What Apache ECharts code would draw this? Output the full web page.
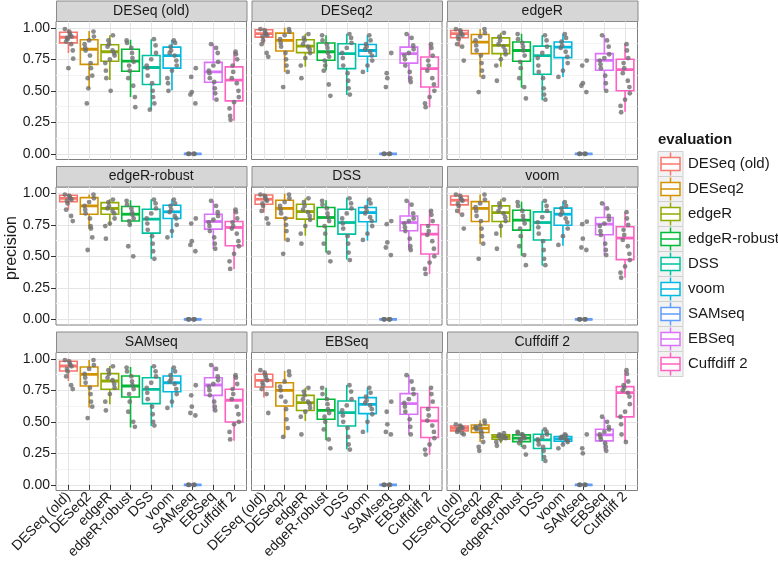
<!DOCTYPE html>
<html><head><meta charset="utf-8">
<script src="https://cdn.jsdelivr.net/npm/echarts@6/dist/echarts.min.js"></script>
<style>html,body{margin:0;padding:0;background:#fff}#c{width:778px;height:571px}</style>
</head><body><div id="c"></div>
<script>
// ---------- DATA ----------
const methods = ['DESeq (old)','DESeq2','edgeR','edgeR-robust','DSS','voom','SAMseq','EBSeq','Cuffdiff 2'];
const colors = ['#F8766D','#D39200','#93AA00','#00BA38','#00C19F','#00B9E3','#619CFF','#DB72FB','#FF61C3'];
const yTicks = [0, 0.25, 0.5, 0.75, 1];
const yMinorTicks = [0.125, 0.375, 0.625, 0.875];
const xTicks = [1,2,3,4,5,6,7,8,9];
// horizontal jitter pattern (category units)
const jitter = [-0.17, 0.09, -0.04, 0.21, -0.22, 0.04, 0.15, -0.11, 0.23, -0.19, 0.07, -0.07, 0.13, 0.0];

// box stats per panel: [lower whisker, Q1, median, Q3, upper whisker], one row per evaluated method
const box_DESeqOld = [[0.80,0.88,0.925,0.965,0.99],[0.52,0.71,0.83,0.905,0.975],[0.585,0.734,0.81,0.866,0.94],[0.45,0.655,0.735,0.83,0.905],[0.35,0.55,0.685,0.78,0.91],[0.505,0.68,0.78,0.847,0.905],[0,0,0,0,0],[0.426,0.568,0.65,0.726,0.873],[0.263,0.42,0.585,0.69,0.81]];
const box_DESeq2 = [[0.874,0.926,0.953,0.984,1.0],[0.65,0.816,0.9,0.958,1.0],[0.69,0.803,0.855,0.905,0.953],[0.663,0.742,0.81,0.879,0.94],[0.466,0.676,0.795,0.874,0.953],[0.65,0.774,0.82,0.868,0.94],[0,0,0,0,0],[0.57,0.72,0.795,0.847,0.953],[0.37,0.53,0.676,0.768,0.873]];
const box_edgeR = [[0.85,0.921,0.953,0.979,0.995],[0.61,0.795,0.887,0.947,0.99],[0.69,0.795,0.86,0.92,0.96],[0.526,0.734,0.82,0.887,0.953],[0.426,0.632,0.78,0.855,0.94],[0.61,0.763,0.847,0.887,0.953],[0,0,0,0,0],[0.505,0.663,0.742,0.795,0.94],[0.334,0.5,0.668,0.75,0.874]];
const box_edgeRrobust = [[0.87,0.934,0.96,0.984,1.0],[0.716,0.834,0.9,0.966,0.99],[0.742,0.834,0.88,0.926,0.953],[0.747,0.78,0.834,0.895,0.945],[0.479,0.684,0.795,0.874,0.953],[0.645,0.8,0.853,0.905,0.953],[0,0,0,0,0],[0.558,0.716,0.776,0.834,0.94],[0.4,0.584,0.729,0.776,0.874]];
const box_DSS = [[0.847,0.913,0.953,0.987,1.0],[0.624,0.803,0.88,0.945,0.997],[0.663,0.795,0.855,0.913,0.96],[0.53,0.737,0.808,0.887,0.945],[0.474,0.676,0.768,0.874,0.966],[0.624,0.774,0.847,0.887,0.953],[0,0,0,0,0],[0.55,0.703,0.768,0.82,0.94],[0.36,0.518,0.676,0.75,0.866]];
const box_voom = [[0.834,0.908,0.945,0.979,1.0],[0.597,0.776,0.88,0.934,0.99],[0.65,0.776,0.847,0.9,0.953],[0.505,0.708,0.787,0.866,0.934],[0.426,0.629,0.768,0.853,0.94],[0.584,0.747,0.834,0.882,0.934],[0,0,0,0,0],[0.505,0.671,0.755,0.808,0.926],[0.33,0.474,0.645,0.734,0.847]];
const box_SAMseq = [[0.824,0.903,0.943,0.98,1.0],[0.613,0.784,0.877,0.935,0.99],[0.639,0.758,0.824,0.882,0.943],[0.454,0.697,0.784,0.864,0.935],[0.467,0.644,0.758,0.85,0.943],[0.613,0.739,0.81,0.864,0.93],[0,0,0,0,0],[0.586,0.71,0.792,0.85,0.95],[0.349,0.499,0.671,0.758,0.871]];
const box_EBSeq = [[0.692,0.776,0.829,0.877,0.908],[0.375,0.626,0.75,0.81,0.903],[0.507,0.59,0.652,0.71,0.771],[0.354,0.52,0.59,0.679,0.771],[0.283,0.467,0.573,0.665,0.792],[0.415,0.565,0.639,0.692,0.771],[0,0,0,0,0],[0.40,0.56,0.644,0.724,0.871],[0.238,0.375,0.507,0.613,0.766]];
const box_Cuffdiff2 = [[0.42,0.428,0.449,0.467,0.48],[0.34,0.415,0.449,0.475,0.512],[0.33,0.362,0.38,0.396,0.41],[0.3,0.343,0.37,0.396,0.42],[0.19,0.288,0.356,0.401,0.44],[0.32,0.346,0.364,0.383,0.40],[0,0,0,0,0],[0.27,0.349,0.396,0.441,0.539],[0.343,0.539,0.731,0.779,0.908]];

// individual precision values per panel (one list per evaluated method)
const pts_DESeqOld = [[0.99,0.97,0.95,0.94,0.93,0.92,0.91,0.89,0.87,0.82,0.755,0.68],[0.97,0.93,0.9,0.87,0.84,0.82,0.78,0.72,0.68,0.62,0.6,0.52,0.40],[0.94,0.9,0.87,0.85,0.82,0.8,0.78,0.75,0.72,0.66,0.6,0.5],[0.9,0.88,0.84,0.8,0.76,0.73,0.7,0.66,0.6,0.54,0.45,0.37],[0.91,0.86,0.8,0.75,0.7,0.68,0.62,0.56,0.5,0.45,0.4,0.35],[0.9,0.88,0.85,0.82,0.8,0.78,0.74,0.7,0.66,0.6,0.56,0.5],[0,0,0,0,0,0,0.68,0.61,0.49,0.47,0.40],[0.87,0.84,0.8,0.73,0.7,0.66,0.64,0.6,0.57,0.52,0.48,0.43],[0.81,0.79,0.75,0.7,0.65,0.6,0.56,0.5,0.45,0.41,0.36,0.3,0.27]];
const pts_DESeq2 = [[0.99,0.98,0.96,0.95,0.94,0.93,0.9,0.87,0.8,0.77],[0.99,0.97,0.94,0.91,0.88,0.85,0.8,0.75,0.7,0.65,0.53],[0.95,0.92,0.9,0.87,0.85,0.83,0.8,0.76,0.7,0.6],[0.94,0.9,0.87,0.84,0.8,0.77,0.74,0.7,0.66,0.55,0.46],[0.95,0.92,0.88,0.84,0.8,0.76,0.7,0.64,0.58,0.52,0.47],[0.94,0.9,0.87,0.85,0.83,0.81,0.78,0.74,0.7,0.65],[0,0,0,0,0,0,0.8,0.64,0.6,0.53],[0.95,0.92,0.86,0.83,0.8,0.78,0.75,0.7,0.65,0.6,0.57],[0.87,0.84,0.78,0.74,0.7,0.66,0.6,0.55,0.5,0.45,0.4,0.37]];
const pts_edgeR = [[0.99,0.98,0.96,0.95,0.94,0.93,0.91,0.87,0.85,0.74],[0.99,0.96,0.93,0.9,0.86,0.82,0.78,0.72,0.66,0.61,0.49],[0.96,0.93,0.9,0.87,0.85,0.82,0.79,0.75,0.7,0.58],[0.95,0.91,0.88,0.85,0.82,0.78,0.73,0.68,0.6,0.53,0.44],[0.94,0.9,0.85,0.8,0.76,0.7,0.65,0.6,0.52,0.47,0.43],[0.95,0.92,0.89,0.86,0.84,0.81,0.77,0.72,0.66,0.61],[0,0,0,0,0,0,0.74,0.7,0.56,0.54,0.49],[0.94,0.9,0.85,0.79,0.76,0.74,0.71,0.68,0.62,0.56,0.5],[0.87,0.82,0.76,0.72,0.68,0.64,0.58,0.53,0.48,0.43,0.38,0.33]];
const pts_edgeRrobust = [[0.99,0.98,0.97,0.96,0.95,0.94,0.92,0.87,0.82,0.78],[0.99,0.96,0.93,0.9,0.87,0.84,0.8,0.74,0.72,0.65,0.55],[0.95,0.93,0.9,0.88,0.86,0.84,0.8,0.76,0.74,0.64],[0.94,0.91,0.88,0.85,0.83,0.8,0.78,0.75,0.58,0.5],[0.95,0.92,0.88,0.84,0.8,0.76,0.71,0.66,0.6,0.54,0.48],[0.95,0.92,0.9,0.87,0.85,0.82,0.8,0.75,0.7,0.65],[0,0,0,0,0,0,0.8,0.76,0.62,0.59,0.54],[0.94,0.9,0.85,0.82,0.79,0.77,0.74,0.7,0.65,0.6,0.56],[0.87,0.85,0.8,0.77,0.74,0.72,0.68,0.62,0.58,0.52,0.46,0.4]];
const pts_DSS = [[0.99,0.98,0.97,0.95,0.94,0.92,0.9,0.86,0.8,0.76],[0.99,0.96,0.93,0.9,0.87,0.84,0.8,0.75,0.7,0.63,0.52],[0.96,0.93,0.9,0.87,0.85,0.82,0.79,0.74,0.68,0.6],[0.94,0.91,0.88,0.84,0.81,0.78,0.74,0.68,0.6,0.53,0.46],[0.96,0.92,0.88,0.84,0.8,0.76,0.72,0.66,0.6,0.53,0.47],[0.95,0.92,0.89,0.86,0.84,0.81,0.78,0.74,0.68,0.63],[0,0,0,0,0,0,0.78,0.755,0.61,0.57,0.51],[0.94,0.91,0.84,0.8,0.78,0.76,0.73,0.7,0.64,0.58,0.55],[0.86,0.83,0.78,0.74,0.7,0.67,0.62,0.56,0.5,0.45,0.4,0.36]];
const pts_voom = [[0.99,0.98,0.96,0.95,0.94,0.92,0.9,0.86,0.83,0.72],[0.99,0.95,0.92,0.89,0.86,0.82,0.78,0.72,0.66,0.6,0.48],[0.95,0.92,0.89,0.86,0.84,0.81,0.78,0.74,0.68,0.56],[0.93,0.9,0.86,0.82,0.79,0.76,0.72,0.66,0.58,0.51,0.43],[0.94,0.9,0.86,0.81,0.77,0.73,0.68,0.62,0.55,0.48,0.43],[0.93,0.9,0.88,0.85,0.83,0.8,0.77,0.72,0.66,0.59],[0,0,0,0,0,0,0.775,0.755,0.64,0.57,0.55],[0.92,0.88,0.82,0.79,0.76,0.74,0.7,0.67,0.6,0.55,0.51],[0.85,0.8,0.75,0.71,0.67,0.63,0.58,0.52,0.47,0.42,0.37,0.33]];
const pts_SAMseq = [[0.99,0.98,0.96,0.95,0.94,0.92,0.9,0.86,0.79,0.76],[0.99,0.95,0.92,0.88,0.85,0.81,0.77,0.72,0.66,0.62,0.53],[0.94,0.91,0.88,0.85,0.83,0.8,0.77,0.72,0.66,0.59],[0.93,0.9,0.86,0.82,0.79,0.76,0.72,0.66,0.58,0.5,0.46],[0.94,0.9,0.86,0.81,0.77,0.73,0.68,0.62,0.56,0.5,0.47],[0.93,0.9,0.87,0.84,0.82,0.8,0.76,0.72,0.66,0.61],[0,0,0,0,0,0,0.79,0.71,0.62,0.57,0.55],[0.95,0.92,0.86,0.83,0.8,0.78,0.75,0.71,0.66,0.62,0.59],[0.87,0.85,0.8,0.76,0.72,0.68,0.62,0.56,0.5,0.48,0.42,0.36]];
const pts_EBSeq = [[0.91,0.89,0.87,0.85,0.83,0.81,0.79,0.76,0.72,0.57],[0.9,0.87,0.82,0.78,0.75,0.7,0.66,0.6,0.52,0.45,0.38],[0.77,0.74,0.71,0.68,0.66,0.64,0.61,0.58,0.54,0.4],[0.77,0.72,0.68,0.64,0.6,0.57,0.54,0.5,0.44,0.36,0.29],[0.79,0.74,0.68,0.63,0.59,0.55,0.5,0.45,0.38,0.32,0.28],[0.77,0.73,0.7,0.67,0.65,0.63,0.6,0.56,0.5,0.42],[0,0,0,0,0,0,0.66,0.58,0.48,0.42,0.40],[0.87,0.82,0.76,0.72,0.68,0.65,0.62,0.58,0.52,0.46,0.4],[0.77,0.72,0.66,0.6,0.55,0.51,0.47,0.42,0.37,0.32,0.28,0.24]];
const pts_Cuffdiff2 = [[0.48,0.47,0.46,0.455,0.45,0.44,0.43,0.42,0.41,0.40],[0.51,0.49,0.47,0.46,0.45,0.44,0.43,0.41,0.38,0.34,0.3,0.27],[0.41,0.4,0.39,0.385,0.38,0.375,0.37,0.36,0.34,0.31],[0.42,0.41,0.4,0.39,0.38,0.37,0.36,0.35,0.33,0.3,0.24],[0.44,0.42,0.4,0.38,0.36,0.35,0.32,0.3,0.27,0.22,0.19],[0.4,0.39,0.38,0.375,0.37,0.36,0.35,0.34,0.32,0.29],[0,0,0,0,0,0,0.4,0.29,0.25],[0.54,0.5,0.46,0.44,0.42,0.4,0.38,0.36,0.33,0.3,0.27],[0.91,0.88,0.82,0.79,0.77,0.75,0.73,0.7,0.64,0.58,0.54,0.48,0.4,0.34]];

const panelBoxes = [box_DESeqOld, box_DESeq2, box_edgeR, box_edgeRrobust, box_DSS, box_voom, box_SAMseq, box_EBSeq, box_Cuffdiff2];
const panelPoints = [pts_DESeqOld, pts_DESeq2, pts_edgeR, pts_edgeRrobust, pts_DSS, pts_voom, pts_SAMseq, pts_EBSeq, pts_Cuffdiff2];

// ---------- LAYOUT ----------
const colLeft = [56, 251.5, 447];
const rowTop = [21.5, 187, 352.5];
const panelW = 190.5, panelH = 138, stripH = 20.5;
const FONT = 'Liberation Sans, Arial, Helvetica, sans-serif';
const textCol = '#1a1a1a';

const grids = [], xAxes = [], yAxes = [], series = [], graphics = [];

for (let k = 0; k < 9; k++) {
  const r = Math.floor(k / 3), c = k % 3;
  grids.push({left: colLeft[c], top: rowTop[r], width: panelW, height: panelH,
    show: true, backgroundColor: '#fff', borderColor: '#7f7f7f', borderWidth: 1});
  const bottomRow = r === 2;
  xAxes.push({gridIndex: k, type: 'value', min: 0.4, max: 9.6,
    axisLine: {show: false},
    axisTick: {show: bottomRow, length: 5, lineStyle: {color: '#333'}, customValues: xTicks},
    axisLabel: {show: bottomRow, customValues: xTicks, rotate: 45, margin: 4, fontSize: 14,
      fontFamily: FONT, color: textCol, formatter: v => methods[Math.round(v) - 1]},
    splitLine: {show: true, lineStyle: {color: '#e5e5e5', width: 1}}});
  // main y axis
  yAxes.push({gridIndex: k, type: 'value', min: -0.045, max: 1.05,
    axisLine: {show: false},
    axisTick: {show: c === 0, length: 5, lineStyle: {color: '#333'}, customValues: yTicks},
    axisLabel: {show: c === 0, customValues: yTicks, margin: 6, fontSize: 14, fontFamily: FONT,
      color: textCol, formatter: v => v.toFixed(2)},
    splitLine: {show: true, lineStyle: {color: '#e5e5e5', width: 1}}});
  // minor grid lines
  yAxes.push({gridIndex: k, type: 'value', min: -0.045, max: 1.05, position: 'left',
    axisLine: {show: false}, axisTick: {show: false, customValues: yMinorTicks},
    axisLabel: {show: false, customValues: yMinorTicks},
    splitLine: {show: true, lineStyle: {color: '#f4f4f4', width: 1}}});

  const boxes = panelBoxes[k];
  series.push({
    type: 'custom', xAxisIndex: k, yAxisIndex: 2 * k, z: 2, clip: true, silent: true,
    data: boxes.map((b, i) => [i + 1, b[0], b[1], b[2], b[3], b[4], i]),
    renderItem: (params, api) => {
      const x = api.value(0);
      const lo = api.coord([x, api.value(1)]);
      const q1 = api.coord([x, api.value(2)]);
      const md = api.coord([x, api.value(3)]);
      const q3 = api.coord([x, api.value(4)]);
      const hi = api.coord([x, api.value(5)]);
      const hw = api.size([0.85, 0])[0] / 2;
      const col = colors[api.value(6)];
      return {type: 'group', children: [
        {type: 'line', shape: {x1: lo[0], y1: lo[1], x2: q1[0], y2: q1[1]}, style: {stroke: col, lineWidth: 1.6}},
        {type: 'line', shape: {x1: q3[0], y1: q3[1], x2: hi[0], y2: hi[1]}, style: {stroke: col, lineWidth: 1.6}},
        {type: 'rect', shape: {x: q3[0] - hw, y: q3[1], width: 2 * hw, height: q1[1] - q3[1]},
          style: {stroke: col, lineWidth: 1.6, fill: '#fff'}},
        {type: 'line', shape: {x1: md[0] - hw, y1: md[1], x2: md[0] + hw, y2: md[1]}, style: {stroke: col, lineWidth: 2.8}}
      ]};
    }
  });
  const pts = [];
  panelPoints[k].forEach((list, i) => {
    list.forEach((v, j) => {
      pts.push([i + 1 + jitter[(j * 5 + i * 3) % jitter.length], v]);
    });
  });
  series.push({type: 'scatter', xAxisIndex: k, yAxisIndex: 2 * k, z: 3, silent: true,
    symbolSize: 4.8, itemStyle: {color: '#6f6f6f'}, data: pts});

  // strip header
  graphics.push({type: 'rect', left: colLeft[c], top: rowTop[r] - stripH - 0.5,
    shape: {width: panelW, height: stripH}, style: {fill: '#d6d6d6', stroke: '#8a8a8a', lineWidth: 1}});
  graphics.push({type: 'text', x: colLeft[c] + panelW / 2, y: rowTop[r] - stripH / 2 - 0.5,
    style: {text: methods[k], fill: textCol, font: '14px ' + FONT, textAlign: 'center', textVerticalAlign: 'middle'}});
}

// y axis title
graphics.push({type: 'text', x: 12, y: 248, rotation: Math.PI / 2,
  style: {text: 'precision', fill: textCol, font: '16px ' + FONT, textAlign: 'center', textVerticalAlign: 'middle'}});

// legend
const legX = 658, legY0 = 164, legStep = 25;
graphics.push({type: 'text', x: legX, y: 140,
  style: {text: 'evaluation', fill: textCol, font: 'bold 15px ' + FONT, textAlign: 'left', textVerticalAlign: 'middle'}});
methods.forEach((m, i) => {
  const cy = legY0 + i * legStep;
  const col = colors[i];
  graphics.push({type: 'rect', shape: {x: legX, y: cy - 12.5, width: 25, height: 25},
    style: {fill: '#f2f2f2', stroke: '#d0d0d0', lineWidth: 1}});
  graphics.push({type: 'line', shape: {x1: legX + 12.5, y1: cy - 11.5, x2: legX + 12.5, y2: cy - 6.5}, style: {stroke: col, lineWidth: 1.5}});
  graphics.push({type: 'line', shape: {x1: legX + 12.5, y1: cy + 6.5, x2: legX + 12.5, y2: cy + 11.5}, style: {stroke: col, lineWidth: 1.5}});
  graphics.push({type: 'rect', shape: {x: legX + 3, y: cy - 6.5, width: 19, height: 13}, style: {fill: '#fff', stroke: col, lineWidth: 1.5}});
  graphics.push({type: 'line', shape: {x1: legX + 3, y1: cy, x2: legX + 22, y2: cy}, style: {stroke: col, lineWidth: 1.5}});
  graphics.push({type: 'text', x: legX + 30, y: cy,
    style: {text: m, fill: textCol, font: '15px ' + FONT, textAlign: 'left', textVerticalAlign: 'middle'}});
});

const chart = echarts.init(document.getElementById('c'), null, {renderer: 'canvas'});
chart.setOption({
  animation: false,
  backgroundColor: '#fff',
  grid: grids, xAxis: xAxes, yAxis: yAxes, series: series,
  graphic: graphics
});
</script></body></html>
